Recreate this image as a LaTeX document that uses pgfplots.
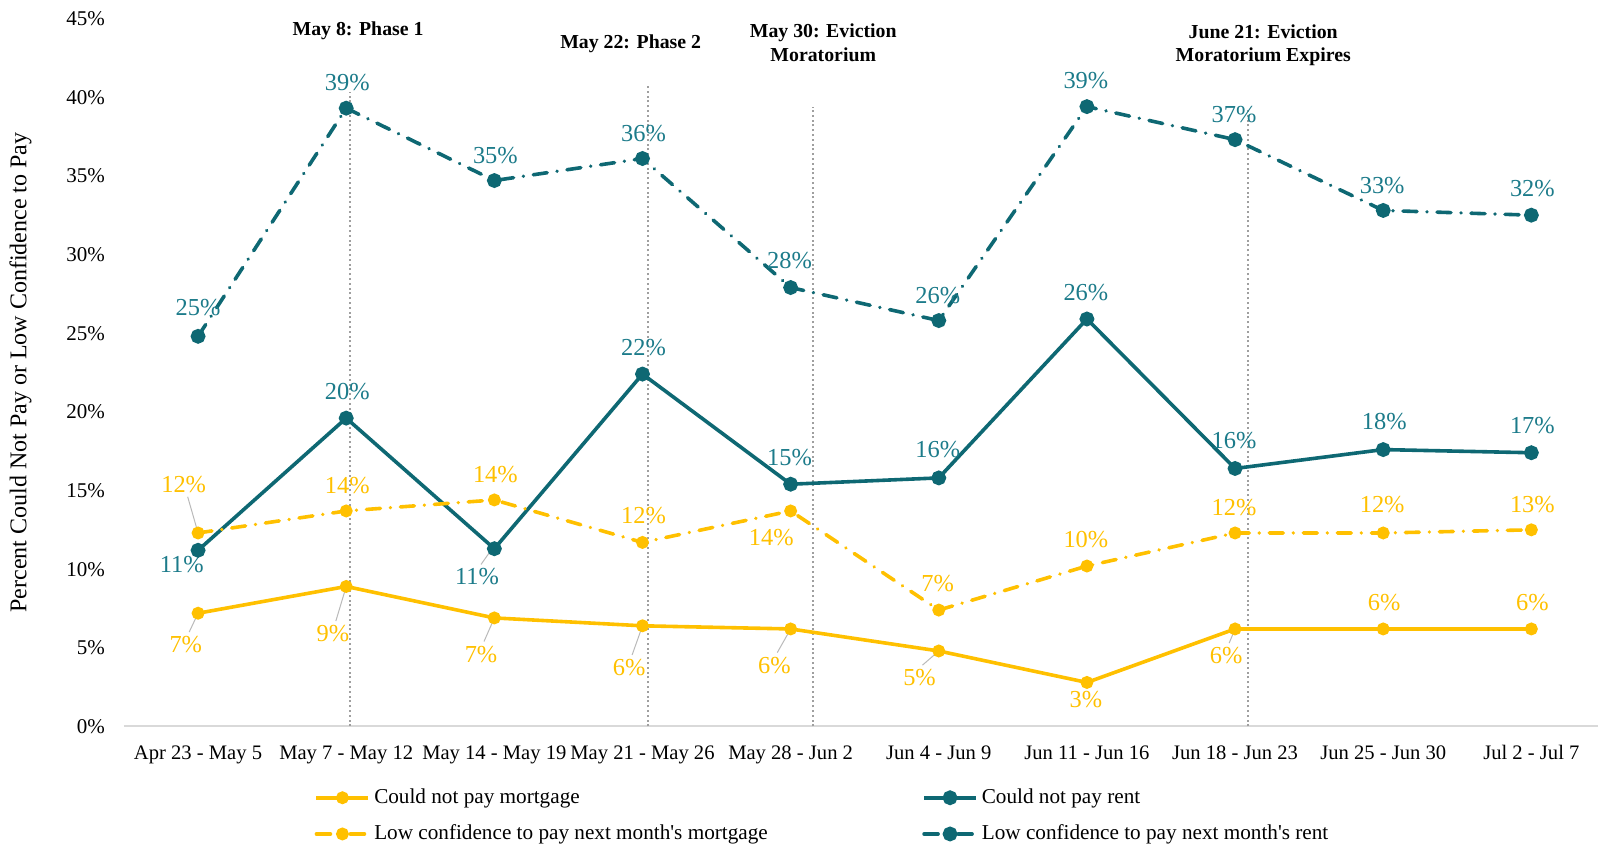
\documentclass[border=0pt]{standalone}
\usepackage{fontspec}
\setmainfont{Liberation Serif}[Ligatures=TeXOff]
\usepackage{pgfplots}
\pgfplotsset{compat=1.18}
\definecolor{gold}{HTML}{FFC000}
\definecolor{tealc}{HTML}{0E6873}
\definecolor{teallab}{HTML}{1C7B8A}
\newcommand{\lab}[4]{\node[font=\fontsize{12.2}{14}\selectfont, text=#4, inner sep=0pt] at (axis cs:#1,#2) {#3\%};}
\newcommand{\lead}[4]{\draw[gray!55, line width=0.5pt] (axis cs:#1,#2) -- (axis cs:#3,#4);}
\newcommand{\vln}[2]{\draw[gray!75, line width=1pt, dash pattern=on 1pt off 1.4pt] (axis cs:#1,0) -- (axis cs:#1,#2);}
\begin{document}
\begin{tikzpicture}
\begin{axis}[
  width=737pt, height=354pt, scale only axis,
  xmin=-0.5, xmax=9.45, ymin=0, ymax=45, clip=false,
  xtick={0,...,9},
  xticklabels={Apr 23 - May 5, May 7 - May 12, May 14 - May 19, May 21 - May 26, May 28 - Jun 2, Jun 4 - Jun 9, Jun 11 - Jun 16, Jun 18 - Jun 23, Jun 25 - Jun 30, Jul 2 - Jul 7},
  ytick={0,5,...,45},
  yticklabel={\pgfmathprintnumber{\tick}\%},
  /pgf/number format/assume math mode=true,
  axis line style={draw=none},
  major tick length=0pt,
  xticklabel style={font=\fontsize{10.3}{12}\selectfont, yshift=-6pt},
  yticklabel style={font=\fontsize{10.5}{12}\selectfont, xshift=-6pt},
  legend columns=2,
  legend cell align=left,
  legend style={at={(axis description cs:0.125,0)}, anchor=north west, yshift=-27pt,
    draw=none, fill=none, font=\fontsize{10.6}{12}\selectfont, row sep=5.2pt,
    /tikz/every even column/.style={column sep=0pt}},
  legend image code/.code={\draw[mark repeat=2, mark phase=2, #1] plot coordinates {(0pt,0pt) (13pt,0pt) (26pt,0pt)};},
]
\draw[black!15, line width=1pt] (rel axis cs:0,0) -- (rel axis cs:1,0);
\vln{1.028}{40.3}
\vln{3.034}{40.8}
\vln{4.152}{39.4}
\vln{7.09}{39.3}

\addplot[gold, line width=1.8pt, mark=*, mark size=2.3pt] coordinates {
(0,7.2) (1,8.9) (2,6.9) (3,6.4) (4,6.2) (5,4.8) (6,2.8) (7,6.2) (8,6.2) (9,6.2)};
\addlegendentry{\makebox[272pt][l]{Could not pay mortgage}}
\addplot[tealc, line width=1.8pt, mark=*, mark size=2.8pt] coordinates {
(0,11.2) (1,19.6) (2,11.3) (3,22.4) (4,15.4) (5,15.8) (6,25.9) (7,16.4) (8,17.6) (9,17.4)};
\addlegendentry{Could not pay rent}
\addplot[gold, line width=1.8pt, line cap=round, dash pattern=on 7pt off 5pt on 0.01pt off 5pt, mark=*, mark size=2.3pt, mark options={solid}] coordinates {
(0,12.3) (1,13.7) (2,14.4) (3,11.7) (4,13.7) (5,7.4) (6,10.2) (7,12.3) (8,12.3) (9,12.5)};
\addlegendentry{\makebox[272pt][l]{Low confidence to pay next month\textquotesingle s mortgage}}
\addplot[tealc, line width=1.8pt, line cap=round, dash pattern=on 7pt off 5pt on 0.01pt off 5pt, mark=*, mark size=2.8pt, mark options={solid}] coordinates {
(0,24.8) (1,39.3) (2,34.7) (3,36.1) (4,27.9) (5,25.8) (6,39.4) (7,37.3) (8,32.8) (9,32.5)};
\addlegendentry{Low confidence to pay next month\textquotesingle s rent}

% labels: low confidence rent
\lab{0}{26.6}{25}{teallab}
\lab{1.007}{40.9}{39}{teallab}
\lab{2.007}{36.3}{35}{teallab}
\lab{3.007}{37.7}{36}{teallab}
\lab{3.993}{29.6}{28}{teallab}
\lab{4.993}{27.4}{26}{teallab}
\lab{5.993}{41.05}{39}{teallab}
\lab{6.993}{38.9}{37}{teallab}
\lab{7.993}{34.4}{33}{teallab}
\lab{9.007}{34.2}{32}{teallab}
% could not pay rent
\lab{-0.11}{10.3}{11}{teallab}
\lab{1.007}{21.3}{20}{teallab}
\lead{1.97}{11.1}{1.91}{10.3}
\lab{1.883}{9.5}{11}{teallab}
\lab{3.007}{24.1}{22}{teallab}
\lab{3.993}{17.1}{15}{teallab}
\lab{4.993}{17.6}{16}{teallab}
\lab{5.993}{27.6}{26}{teallab}
\lab{6.993}{18.2}{16}{teallab}
\lab{8.007}{19.4}{18}{teallab}
\lab{9.007}{19.1}{17}{teallab}
% low confidence mortgage
\lead{0}{12.3}{-0.07}{14.6}
\lab{-0.097}{15.4}{12}{gold}
\lab{1.007}{15.3}{14}{gold}
\lab{2.007}{16.0}{14}{gold}
\lab{3.007}{13.4}{12}{gold}
\lab{3.869}{12.0}{14}{gold}
\lab{4.993}{9.1}{7}{gold}
\lab{5.993}{11.9}{10}{gold}
\lab{6.993}{13.9}{12}{gold}
\lab{7.993}{14.1}{12}{gold}
\lab{9.007}{14.1}{13}{gold}
% could not pay mortgage
\lead{0}{7.2}{-0.06}{6.0}
\lab{-0.083}{5.2}{7}{gold}
\lead{1}{8.9}{0.93}{6.7}
\lab{0.91}{5.9}{9}{gold}
\lead{2}{6.9}{1.93}{5.4}
\lab{1.91}{4.6}{7}{gold}
\lead{3}{6.4}{2.93}{4.55}
\lab{2.91}{3.76}{6}{gold}
\lead{4}{6.2}{3.91}{4.7}
\lab{3.89}{3.9}{6}{gold}
\lead{5}{4.8}{4.89}{3.9}
\lab{4.87}{3.1}{5}{gold}
\lab{5.993}{1.7}{3}{gold}
\lead{7}{6.2}{6.96}{5.3}
\lab{6.94}{4.5}{6}{gold}
\lab{8.007}{7.85}{6}{gold}
\lab{9.007}{7.9}{6}{gold}

% event annotations
\node[font=\bfseries\fontsize{9.9}{11.7}\selectfont, align=center] at (axis cs:1.08,44.2) {May 8: Phase 1};
\node[font=\bfseries\fontsize{9.9}{11.7}\selectfont, align=center] at (axis cs:2.92,43.4) {May 22: Phase 2};
\node[font=\bfseries\fontsize{9.9}{11.7}\selectfont, align=center] at (axis cs:4.22,43.45) {May 30: Eviction\\Moratorium};
\node[font=\bfseries\fontsize{9.9}{11.7}\selectfont, align=center] at (axis cs:7.19,43.3) {June 21: Eviction\\Moratorium Expires};

% y label
\node[xshift=-51.8pt, rotate=90, font=\fontsize{12}{14}\selectfont] at (rel axis cs:0,0.5) {Percent Could Not Pay or Low Confidence to Pay};
\end{axis}
\pgfresetboundingbox
\useasboundingbox (current axis.south west) ++(-62pt,-59.25pt) rectangle ++(800pt,422.5pt);
\end{tikzpicture}
\end{document}
